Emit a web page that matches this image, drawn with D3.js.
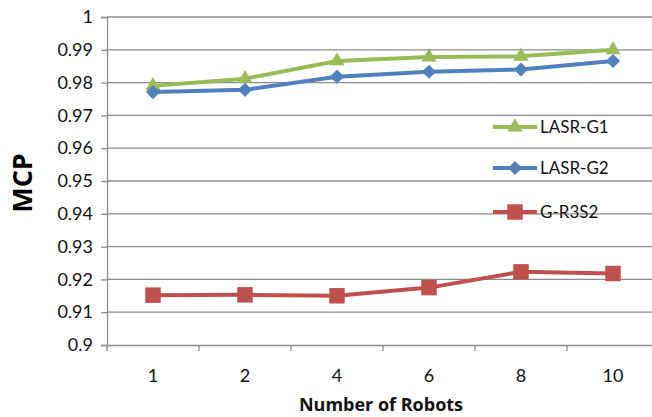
<!DOCTYPE html>
<html>
<head>
<meta charset="utf-8">
<script src="https://cdn.jsdelivr.net/npm/d3@7"></script>
<style>
  html, body { margin: 0; padding: 0; background: #fff; }
  svg { display: block; font-family: Lato, "Open Sans", sans-serif; }
</style>
</head>
<body>
<svg id="chart" width="652" height="417"></svg>
<script>
// Robot counts along the x axis
const categories = ["1", "2", "4", "6", "8", "10"];
// MCP per series
const lasrG1 = [0.9790, 0.9812, 0.9866, 0.9878, 0.9880, 0.9900];
const lasrG2 = [0.9771, 0.9778, 0.9818, 0.9833, 0.9840, 0.9866];
const gR3S2  = [0.9152, 0.9153, 0.9150, 0.9175, 0.9223, 0.9218];
const yTicks = [0.9, 0.91, 0.92, 0.93, 0.94, 0.95, 0.96, 0.97, 0.98, 0.99, 1];
const yTickLabels = ["0.9", "0.91", "0.92", "0.93", "0.94", "0.95", "0.96", "0.97", "0.98", "0.99", "1"];

const series = [
  { name: "LASR-G1", values: lasrG1, color: "#9BBB59", symbol: d3.symbolTriangle, size: 100, rotate: 0 },
  { name: "LASR-G2", values: lasrG2, color: "#4F81BD", symbol: d3.symbolSquare, size: 100, rotate: 45 },
  { name: "G-R3S2",  values: gR3S2,  color: "#C0504D", symbol: d3.symbolSquare, size: 240, rotate: 0 }
];

const svg = d3.select("#chart");
const plot = { left: 107, right: 659, top: 17, bottom: 345 };

const x = d3.scaleBand().domain(categories).range([plot.left, plot.right]);
const y = d3.scaleLinear().domain([0.9, 1]).range([plot.bottom, plot.top]);

// Horizontal gridlines
svg.append("g")
  .selectAll("line")
  .data(yTicks.slice(1))
  .join("line")
  .attr("x1", plot.left).attr("x2", plot.right)
  .attr("y1", d => y(d)).attr("y2", d => y(d))
  .attr("stroke", "#8c8c8c").attr("stroke-width", 1.3);

// Y axis
const yAxis = svg.append("g")
  .attr("transform", `translate(${plot.left},0)`)
  .call(d3.axisLeft(y).tickValues(yTicks).tickFormat((d, i) => yTickLabels[i]).tickSize(6).tickPadding(8));
yAxis.select(".domain").attr("stroke", "#8c8c8c").attr("stroke-width", 1.3);
yAxis.selectAll(".tick line").attr("stroke", "#8c8c8c").attr("stroke-width", 1.3);
yAxis.selectAll(".tick text").attr("font-size", 18).attr("fill", "#111").attr("font-family", "Lato, sans-serif");

// X axis with tick marks on band boundaries
const xAxis = svg.append("g")
  .attr("transform", `translate(0,${plot.bottom})`)
  .call(d3.axisBottom(x).tickSize(0).tickPadding(24));
xAxis.select(".domain").attr("stroke", "#8c8c8c").attr("stroke-width", 1.3);
xAxis.selectAll(".tick text").attr("font-size", 18).attr("fill", "#111").attr("font-family", "Lato, sans-serif");
xAxis.selectAll(".bound")
  .data(categories.map(c => x(c)).concat([plot.right]))
  .join("line")
  .attr("class", "bound")
  .attr("x1", d => d).attr("x2", d => d)
  .attr("y1", 0).attr("y2", 6)
  .attr("stroke", "#8c8c8c").attr("stroke-width", 1.3);

// Series lines and markers
const cx = c => x(c) + x.bandwidth() / 2;
const line = d3.line().x((d, i) => cx(categories[i])).y(d => y(d));

series.forEach(s => {
  svg.append("path")
    .datum(s.values)
    .attr("d", line)
    .attr("fill", "none")
    .attr("stroke", s.color)
    .attr("stroke-width", 4)
    .attr("stroke-linejoin", "round");
  svg.append("g")
    .selectAll("path")
    .data(s.values)
    .join("path")
    .attr("transform", (d, i) => `translate(${cx(categories[i])},${y(d)}) rotate(${s.rotate})`)
    .attr("d", d3.symbol().type(s.symbol).size(s.size))
    .attr("fill", s.color);
});

// Legend
const legendY = [127, 168, 212];
const legend = svg.append("g");
series.forEach((s, i) => {
  const g = legend.append("g").attr("transform", `translate(493,${legendY[i]})`);
  g.append("line").attr("x1", 0).attr("x2", 44).attr("y1", 0).attr("y2", 0)
    .attr("stroke", s.color).attr("stroke-width", 4);
  g.append("path").attr("transform", `translate(22,0) rotate(${s.rotate})`)
    .attr("d", d3.symbol().type(s.symbol).size(s.size)).attr("fill", s.color);
  g.append("text").attr("x", 47).attr("y", 0).attr("dy", "0.35em")
    .attr("font-size", 17).attr("fill", "#111").text(s.name);
});

// Axis titles
svg.append("text")
  .attr("transform", "translate(32,183) rotate(-90)")
  .attr("text-anchor", "middle")
  .attr("font-family", "'Open Sans', sans-serif")
  .attr("font-size", 27).attr("font-weight", "bold").attr("fill", "#000")
  .text("MCP");

svg.append("text")
  .attr("x", 381).attr("y", 411)
  .attr("text-anchor", "middle")
  .attr("font-family", "'Open Sans', sans-serif")
  .attr("font-size", 18).attr("font-weight", "bold").attr("fill", "#111")
  .text("Number of Robots");
</script>
</body>
</html>
